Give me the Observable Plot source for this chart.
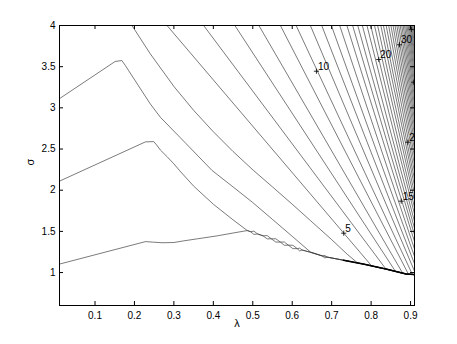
<!DOCTYPE html>
<html><head><meta charset="utf-8">
<script src="https://cdn.jsdelivr.net/npm/d3@7"></script>
<script src="https://cdn.jsdelivr.net/npm/@observablehq/plot@0.6"></script>
<style>body{margin:0;background:#fff}#chart{width:457px;height:344px}</style>
</head><body><div id="chart"></div>
<script>
// axis ticks
const xTicks = [0.1,0.2,0.3,0.4,0.5,0.6,0.7,0.8,0.9];
const yTicks = [1,1.5,2,2.5,3,3.5,4];

// envelope (thick lower boundary)
const envLam = [0.486,0.53,0.57,0.613,0.647,0.681,0.73,0.783,0.84,0.889,0.91];
const envSig = [1.51,1.44,1.37,1.29,1.245,1.195,1.15,1.10,1.04,0.982,0.975];

// contour 1 (bottom), own part then wiggly tail along envelope
const c1Lam = [0.01,0.228,0.245,0.27,0.30,0.325,0.36,0.41,0.45,0.486,
  0.494,0.503,0.512,0.526,0.5365,0.547,0.5585,0.57,0.58,0.59,0.6015,0.613,0.619,0.625,0.647,0.676,0.6825,0.689];
const c1Sig = [1.103,1.376,1.37,1.362,1.365,1.385,1.41,1.446,1.48,1.51,
  1.497,1.463,1.469,1.446,1.409,1.41,1.37,1.37,1.331,1.333,1.291,1.29,1.262,1.274,1.245,1.202,1.178,1.187];
// contour 2
const c2Lam = [0.01,0.228,0.249,0.256,0.266,0.283,0.30,0.315,0.35,0.40,0.45,0.486,
  0.494,0.503,0.512,0.526,0.5365,0.547,0.5585,0.57,0.58,0.59,0.6015,0.613,0.619,0.625,0.647,0.676,0.6825,0.689];
const c2Sig = [2.11,2.587,2.59,2.55,2.487,2.406,2.32,2.235,2.05,1.83,1.64,1.51,
  1.497,1.503,1.469,1.446,1.449,1.41,1.41,1.37,1.371,1.333,1.331,1.29,1.297,1.274,1.245,1.202,1.208,1.187];
// contour 3
const c3Lam = [0.01,0.151,0.168,0.177,0.185,0.240,0.2655,0.33,0.397,0.45,0.50,0.55,0.60,0.646,0.681];
const c3Sig = [3.112,3.563,3.575,3.514,3.454,3.049,2.887,2.57,2.239,2.04,1.85,1.645,1.44,1.25,1.195];
// contour 4
const c4Lam = [0.1937,0.240,0.30,0.35,0.40,0.45,0.502,0.55,0.60,0.646,0.70,0.74,0.765];
const c4Sig = [4.0,3.657,3.26,2.97,2.71,2.47,2.239,2.04,1.83,1.632,1.40,1.22,1.12];

// straight fan contours 5..44: entry at top (sigma = 4) and end point
const fanLevel = [5,6,7,8,9,10,11,12,13,14,15,16,17,18,19,20,21,22,23,24,25,26,27,28,29,30,31,32,33,34,35,36,37,38,39,40,41,42,43,44];
const fanTopLam = [0.2826,0.3754,0.4546,0.5155,0.570,0.6099,0.6460,0.6748,0.6992,0.7203,0.7386,0.7531,0.7661,0.7778,0.7895,0.7990,0.8086,0.8165,0.8246,0.8312,0.8381,0.8444,0.8502,0.8556,0.8606,0.8653,0.8697,0.8738,0.8777,0.8813,0.8847,0.8880,0.8910,0.8939,0.8966,0.8992,0.9017,0.9041,0.9063,0.9085];
const fanEndLam = [0.8013,0.838,0.862,0.880,0.895,0.9048,0.91,0.91,0.91,0.91,0.91,0.91,0.91,0.91,0.91,0.91,0.91,0.91,0.91,0.91,0.91,0.91,0.91,0.91,0.91,0.91,0.91,0.91,0.91,0.91,0.91,0.91,0.91,0.91,0.91,0.91,0.91,0.91,0.91,0.91];
const fanEndSig = [1.081,1.04,1.012,0.992,0.977,0.976,1.017,1.107,1.197,1.287,1.377,1.458,1.539,1.620,1.710,1.791,1.881,1.962,2.052,2.133,2.223,2.313,2.403,2.493,2.583,2.673,2.763,2.853,2.943,3.033,3.123,3.213,3.303,3.393,3.483,3.573,3.663,3.753,3.843,3.933];

// contour labels
const labText = ["5","10","15","20","25","30","35","40"];
const labLam = [0.7306,0.6614,0.8763,0.8194,0.893,0.872,0.908,0.902];
const labSig = [1.478,3.445,1.867,3.587,2.583,3.766,3.312,3.95];

// ---- assemble rows ----
const rows = [];
function addLine(id, lams, sigs, followEnv) {
  lams.forEach((l, i) => rows.push({id, lam: l, sig: sigs[i]}));
  if (followEnv) {
    const last = lams[lams.length - 1];
    envLam.forEach((l, i) => { if (l > last + 1e-6) rows.push({id, lam: l, sig: envSig[i]}); });
  }
}
addLine("c1", c1Lam, c1Sig, true);
addLine("c2", c2Lam, c2Sig, true);
addLine("c3", c3Lam, c3Sig, true);
addLine("c4", c4Lam, c4Sig, true);
fanLevel.forEach((k, i) => {
  addLine("f" + k, [fanTopLam[i], fanEndLam[i]], [4, fanEndSig[i]], fanEndLam[i] < 0.91);
});
const envRows = envLam.map((l, i) => ({lam: l, sig: envSig[i]})).filter(d => d.lam >= 0.7);
const labels = labText.map((t, i) => ({t, lam: labLam[i], sig: labSig[i]}));

const W = 457, H = 344, ML = 59, MR = 43, MT = 25, MB = 39;
const FW = W - ML - MR, FH = H - MT - MB;

const chart = Plot.plot({
  width: W, height: H,
  marginLeft: ML, marginRight: MR, marginTop: MT, marginBottom: MB,
  style: {fontFamily: "'Liberation Sans', Arial, Helvetica, sans-serif", fontSize: "10px", color: "black", background: "white"},
  x: {domain: [0.01, 0.91], label: null},
  y: {domain: [0.6, 4], label: null},
  marks: [
    Plot.line(rows, {x: "lam", y: "sig", z: "id", stroke: "#333", strokeWidth: 0.65, clip: true}),
    Plot.line(envRows, {x: "lam", y: "sig", stroke: "black", strokeWidth: 1.5, clip: true}),
    Plot.dot(labels, {x: "lam", y: "sig", symbol: "plus", r: 1.8, stroke: "black", strokeWidth: 0.8, clip: true}),
    Plot.text(labels, {x: "lam", y: "sig", text: "t", dx: 1.5, dy: -1.5, textAnchor: "start", lineAnchor: "bottom", fontSize: 10, fill: "black", clip: true}),
    Plot.axisX(xTicks, {tickSize: 0, tickPadding: 6, tickFormat: d => String(d), label: null, fontSize: 10}),
    Plot.axisY(yTicks, {tickSize: 0, tickPadding: 4, tickFormat: d => String(d), label: null, fontSize: 10}),
    Plot.tickX(xTicks, {x: d => d, insetTop: FH - 4, stroke: "black"}),
    Plot.tickX(xTicks, {x: d => d, insetBottom: FH - 4, stroke: "black"}),
    Plot.tickY(yTicks, {y: d => d, insetRight: FW - 4, stroke: "black"}),
    Plot.tickY(yTicks, {y: d => d, insetLeft: FW - 4, stroke: "black"}),
    Plot.frame({stroke: "black", strokeWidth: 1}),
    Plot.text(["λ"], {frameAnchor: "bottom", dy: 21, fontSize: 11, fill: "black"}),
    Plot.text(["σ"], {frameAnchor: "left", dx: -29, rotate: -90, fontSize: 11, fill: "black"})
  ]
});
document.getElementById("chart").appendChild(chart);
</script>
</body></html>
